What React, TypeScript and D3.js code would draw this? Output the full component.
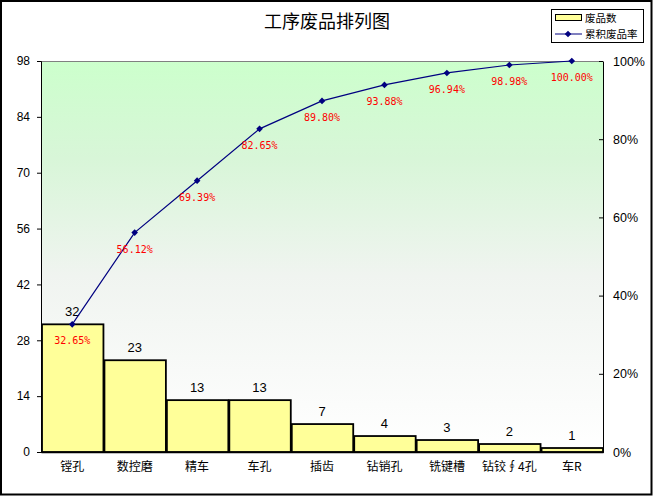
import React, { useEffect, useRef } from 'react';
import * as d3 from 'd3';

const categories = ['镗孔', '数控磨', '精车', '车孔', '插齿', '钻销孔', '铣键槽', '钻铰∮4孔', '车R'];
const defects = [32, 23, 13, 13, 7, 4, 3, 2, 1];
const cumulativePct = [32.65, 56.12, 69.39, 82.65, 89.8, 93.88, 96.94, 98.98, 100.0];
const leftTicks = [0, 14, 28, 42, 56, 70, 84, 98];
const rightTicks = [0, 20, 40, 60, 80, 100];

const W = 653;
const H = 496;

const App: React.FC = () => {
  const svgRef = useRef<SVGSVGElement>(null);

  useEffect(() => {
    if (!svgRef.current) return;
    const svg = d3.select(svgRef.current);
    svg.selectAll('*').remove();

    const margin = { top: 61, right: 50, bottom: 44, left: 41 };
    const x0 = margin.left;
    const x1 = W - margin.right;
    const y0 = H - margin.bottom;
    const y1 = margin.top;

    const x = d3.scaleBand<string>().domain(categories).range([x0, x1]).padding(0);
    const yL = d3.scaleLinear().domain([0, 98]).range([y0, y1]);
    const yR = d3.scaleLinear().domain([0, 100]).range([y0, y1]);

    // background + frame
    svg.append('rect').attr('width', W).attr('height', H).attr('fill', '#fff');
    svg.append('rect')
      .attr('x', 1).attr('y', 1).attr('width', W - 2.5).attr('height', H - 2.5)
      .attr('fill', 'none').attr('stroke', '#000').attr('stroke-width', 2);

    const defs = svg.append('defs');
    const grad = defs.append('linearGradient')
      .attr('id', 'bg').attr('x1', 0).attr('y1', 0).attr('x2', 0).attr('y2', 1);
    grad.append('stop').attr('offset', '0%').attr('stop-color', '#ccffcc');
    grad.append('stop').attr('offset', '25%').attr('stop-color', '#d8f6d8');
    grad.append('stop').attr('offset', '55%').attr('stop-color', '#f0f4f0');
    grad.append('stop').attr('offset', '100%').attr('stop-color', '#ffffff');

    svg.append('rect')
      .attr('x', x0).attr('y', y1).attr('width', x1 - x0).attr('height', y0 - y1)
      .attr('fill', 'url(#bg)');
    svg.append('line')
      .attr('x1', x0).attr('x2', x1).attr('y1', y1 + 0.5).attr('y2', y1 + 0.5)
      .attr('stroke', '#808080');

    // title
    svg.append('text')
      .attr('x', 327).attr('y', 28)
      .attr('text-anchor', 'middle')
      .attr('font-family', '"Noto Sans CJK SC", sans-serif')
      .attr('font-size', 18)
      .text('工序废品排列图');

    // bars
    svg.selectAll('.bar')
      .data(defects)
      .enter()
      .append('rect')
      .attr('class', 'bar')
      .attr('x', (_, i) => x(categories[i])! + 1)
      .attr('y', (d) => yL(d))
      .attr('width', x.bandwidth() - 1)
      .attr('height', (d) => y0 - yL(d))
      .attr('fill', '#ffff99')
      .attr('stroke', '#000')
      .attr('stroke-width', 1.8);

    svg.selectAll('.barLabel')
      .data(defects)
      .enter()
      .append('text')
      .attr('x', (_, i) => x(categories[i])! + x.bandwidth() / 2)
      .attr('y', (d) => yL(d) - 8)
      .attr('text-anchor', 'middle')
      .attr('font-family', '"Liberation Sans", Arial, sans-serif')
      .attr('font-size', 13)
      .text((d) => d);

    // left axis
    const axL = svg.append('g').attr('transform', `translate(${x0},0)`)
      .call(d3.axisLeft(yL).tickValues(leftTicks).tickSize(4).tickPadding(7));
    axL.select('.domain').attr('stroke', '#000');
    axL.selectAll('text')
      .attr('font-family', '"Liberation Sans", Arial, sans-serif')
      .attr('font-size', 12).attr('fill', '#000');

    // right axis (ticks inward)
    const axR = svg.append('g').attr('transform', `translate(${x1},0)`)
      .call(d3.axisRight(yR).tickValues(rightTicks).tickSize(0).tickPadding(10)
        .tickFormat((d) => `${d}%`));
    axR.select('.domain').attr('stroke', '#000');
    axR.selectAll('.tick').append('line')
      .attr('x1', -4).attr('x2', 0).attr('stroke', '#000');
    axR.selectAll('text')
      .attr('font-family', '"Liberation Sans", Arial, sans-serif')
      .attr('font-size', 12.5).attr('fill', '#000');

    // bottom axis
    const axB = svg.append('g').attr('transform', `translate(0,${y0})`)
      .call(d3.axisBottom(x).tickSize(0).tickPadding(10));
    axB.select('.domain').attr('stroke', '#000').attr('stroke-width', 1.5);
    axB.selectAll('text')
      .attr('font-family', '"Noto Sans CJK SC", sans-serif')
      .attr('font-size', 12).attr('fill', '#000');

    // cumulative line
    const pts = cumulativePct.map((p, i) => [x(categories[i])! + x.bandwidth() / 2, yR(p)] as [number, number]);
    svg.append('path')
      .attr('d', d3.line()(pts)!)
      .attr('fill', 'none')
      .attr('stroke', '#000080')
      .attr('stroke-width', 1.2);

    // diamond marker = square rotated 45deg
    const marker = d3.symbol().type(d3.symbolSquare).size(22);
    svg.selectAll('.marker')
      .data(pts)
      .enter()
      .append('path')
      .attr('transform', (d) => `translate(${d[0]},${d[1]}) rotate(45)`)
      .attr('d', marker()!)
      .attr('fill', '#000080');

    svg.selectAll('.pctLabel')
      .data(cumulativePct)
      .enter()
      .append('text')
      .attr('x', (_, i) => pts[i][0])
      .attr('y', (_, i) => pts[i][1] + 20)
      .attr('text-anchor', 'middle')
      .attr('font-family', '"DejaVu Sans Mono", monospace')
      .attr('font-size', 10)
      .attr('fill', '#ff0000')
      .text((d) => `${d.toFixed(2)}%`);

    // legend
    const lg = svg.append('g');
    lg.append('rect')
      .attr('x', 551.5).attr('y', 9.5).attr('width', 92).attr('height', 33)
      .attr('fill', '#fff').attr('stroke', '#000');
    lg.append('rect')
      .attr('x', 555.5).attr('y', 14.5).attr('width', 26).attr('height', 6)
      .attr('fill', '#ffff99').attr('stroke', '#000');
    lg.append('text')
      .attr('x', 585).attr('y', 21.5)
      .attr('font-family', '"Noto Sans CJK SC", sans-serif')
      .attr('font-size', 10.5)
      .text('废品数');
    lg.append('line')
      .attr('x1', 555).attr('x2', 582).attr('y1', 34).attr('y2', 34)
      .attr('stroke', '#000080');
    lg.append('path')
      .attr('transform', 'translate(568,34) rotate(45)')
      .attr('d', marker()!)
      .attr('fill', '#000080');
    lg.append('text')
      .attr('x', 585).attr('y', 38)
      .attr('font-family', '"Noto Sans CJK SC", sans-serif')
      .attr('font-size', 10.5)
      .text('累积废品率');
  }, []);

  return (
    <svg
      ref={svgRef}
      width={W}
      height={H}
      style={{ position: 'absolute', left: 0, top: 0, display: 'block' }}
    />
  );
};

export default App;
